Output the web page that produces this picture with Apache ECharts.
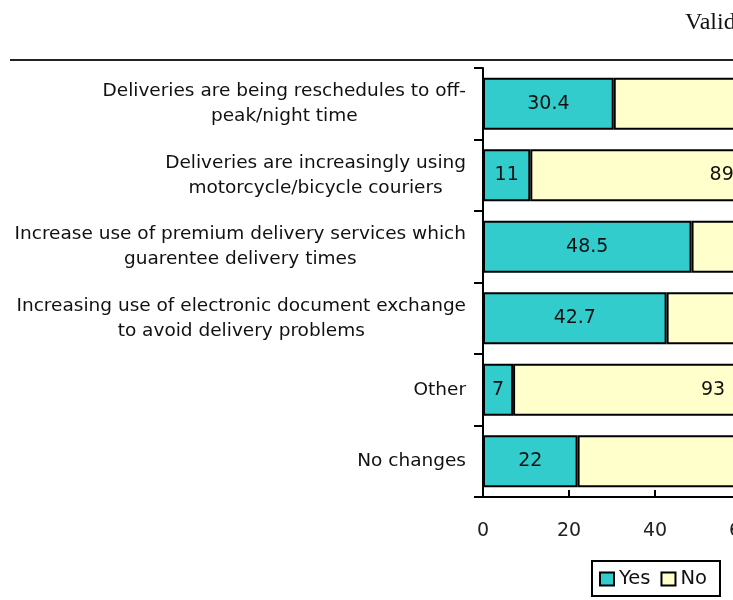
<!DOCTYPE html>
<html>
<head>
<meta charset="utf-8">
<script src="https://cdn.jsdelivr.net/npm/echarts@6/dist/echarts.min.js"></script>
<style>
  html, body { margin: 0; padding: 0; background: #fff; }
  #chart { width: 733px; height: 600px; }
</style>
</head>
<body>
<div id="chart"></div>
<script>
// Changes in delivery practice (percentage of valid responses)
const categories = [
  'Deliveries are being reschedules to off-\npeak/night time',
  'Deliveries are increasingly using\nmotorcycle/bicycle couriers',
  'Increase use of premium delivery services which\nguarentee delivery times',
  'Increasing use of electronic document exchange\nto avoid delivery problems',
  'Other',
  'No changes'
];
const yesValues = [30.4, 11, 48.5, 42.7, 7, 22];
const noValues = [69.6, 89, 51.5, 57.3, 93, 78];
const xTicks = { min: 0, max: 100, interval: 20 };

const chart = echarts.init(document.getElementById('chart'), null, { renderer: 'canvas' });

const fontFamily = 'DejaVu Sans, Verdana, sans-serif';
const barLabel = {
  show: true,
  position: 'inside',
  color: '#111',
  fontFamily: fontFamily,
  fontSize: 19
};

chart.setOption({
  animation: false,
  backgroundColor: '#ffffff',
  title: {
    text: 'Valid responses (%)',
    left: 680,
    top: 6,
    textStyle: {
      fontFamily: 'Liberation Serif, DejaVu Serif, serif',
      fontWeight: 'normal',
      fontSize: 24,
      color: '#111'
    }
  },
  graphic: [{
    type: 'line',
    shape: { x1: 10, y1: 60, x2: 733, y2: 60 },
    style: { stroke: '#222', lineWidth: 2 }
  }],
  legend: {
    data: ['Yes', 'No'],
    left: 592,
    top: 561,
    padding: [8, 13, 7, 7],
    itemGap: 10,
    itemWidth: 14,
    itemHeight: 13,
    icon: 'rect',
    borderColor: '#000',
    borderWidth: 2,
    textStyle: { fontFamily: fontFamily, fontSize: 19.5, color: '#111' }
  },
  grid: {
    left: 483,
    top: 68,
    width: 430,
    height: 429,
    outerBoundsMode: 'none'
  },
  xAxis: {
    type: 'value',
    min: xTicks.min,
    max: xTicks.max,
    interval: xTicks.interval,
    axisLine: { show: true, lineStyle: { color: '#000', width: 2 } },
    axisTick: { show: true, inside: true, length: 7, lineStyle: { color: '#000', width: 2 } },
    axisLabel: { margin: 25, color: '#222', fontFamily: fontFamily, fontSize: 19 },
    splitLine: { show: false }
  },
  yAxis: {
    type: 'category',
    inverse: true,
    data: categories,
    axisLine: { show: true, lineStyle: { color: '#000', width: 2 } },
    axisTick: { show: true, length: 9, lineStyle: { color: '#000', width: 2 } },
    axisLabel: {
      margin: 17,
      align: 'right',
      color: '#111',
      fontFamily: fontFamily,
      fontSize: 18.5,
      lineHeight: 25,
      formatter: function (v) {
        return v.split('\n').map(function (l) { return '{c|' + l + '}'; }).join('\n');
      },
      rich: {
        c: { align: 'center', fontFamily: fontFamily, fontSize: 18.5, lineHeight: 25, color: '#111' }
      }
    }
  },
  series: [
    {
      name: 'Yes',
      type: 'bar',
      stack: 'total',
      barCategoryGap: '27%',
      data: yesValues,
      itemStyle: { color: '#33CCCC', borderColor: '#000', borderWidth: 2 },
      label: barLabel
    },
    {
      name: 'No',
      type: 'bar',
      stack: 'total',
      data: noValues,
      itemStyle: { color: '#FFFFCC', borderColor: '#000', borderWidth: 2 },
      label: barLabel
    }
  ]
});
</script>
</body>
</html>
